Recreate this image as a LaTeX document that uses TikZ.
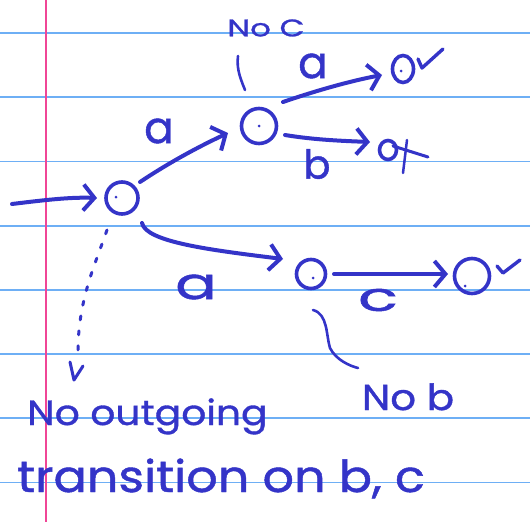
\documentclass[tikz,border=0pt]{standalone}
\usepackage{fontspec}
\setmainfont{Poppins}
\newfontfamily\hand{Poppins}[FakeBold=1]
\usetikzlibrary{arrows.meta,shapes.geometric}
\definecolor{inkc}{RGB}{52,52,200}
\definecolor{rulec}{RGB}{110,175,245}
\definecolor{marginc}{RGB}{240,70,150}
\begin{document}
\begin{tikzpicture}[x=1pt,y=-1pt,
  pen/.style={draw=inkc, line width=4pt, line cap=round, line join=round},
  thinpen/.style={draw=inkc, line width=2.6pt, line cap=round, line join=round},
  state/.style={circle, draw=inkc, line width=3.6pt, inner sep=0pt},
  barb/.style={-{Straight Barb[length=11pt,width=26pt,line width=4pt]}},
  lbl/.style={text=inkc, inner sep=0pt, font=\hand\fontsize{#1}{#1}\selectfont},
  dotc/.style={fill=inkc, circle, inner sep=0pt, minimum size=3pt}]
\fill[white] (0,0) rectangle (530,522);
\useasboundingbox (0,0) rectangle (530,522);
% ruled paper
\foreach \k in {0,...,7}
  \draw[rulec, line width=1.8pt] (0,{33+64.2*\k}) -- (530,{33+64.2*\k});
\draw[marginc, line width=1.8pt] (46,0) -- (46,522);

% states
\node[state, minimum size=32pt] (s0) at (122,198) {};
\node[state, minimum size=35pt] (s1) at (259,126) {};
\node[state, ellipse, minimum width=21pt, minimum height=27pt] (s2) at (403,69) {};
\node[state, ellipse, minimum width=17pt, minimum height=19pt] (s3) at (388,150) {};
\node[state, minimum size=29pt] (s4) at (311,274) {};
\node[state, minimum size=35pt] (s5) at (472,276) {};
\node[dotc] (d1) at (s1.center) {};
\node[dotc] (d2) at (401,71) {};
\node[dotc] (d4) at (313,278) {};
\node[dotc] (d5) at (465,286) {};
\node[dotc] (d0) at (116,197) {};

% coordinates
\coordinate (start) at (12,204);
\coordinate (dend) at (75,378);

% transitions
\draw[pen, barb] (start) .. controls (45,200) and (70,197) .. (97,198);
\draw[pen, barb] (140,182) .. controls (170,162) and (200,146) .. (228,133);
\draw[pen, barb] (283,102) .. controls (315,91) and (350,81) .. (382,75);
\draw[pen, barb] (285,135) .. controls (315,140) and (345,141) .. (370,142);
\draw[pen, barb] (142,223) .. controls (146,242) and (210,250) .. (283,259);
\draw[pen, barb] (334,274) -- (448,274);

% dotted "no outgoing" pointer
\draw[thinpen, line width=3pt, dash pattern=on 4pt off 11pt] (107,230) .. controls (95,265) and (78,300) .. (78,352);
\draw[thinpen, line width=3pt] (70,362) -- (74,380) -- (83,366);

% "No C" pointer
\draw[thinpen] (238,56) .. controls (236,70) and (242,82) .. (245,90);
% "No b" pointer
\draw[thinpen] (313,310) .. controls (328,314) and (326,335) .. (330,348) .. controls (336,360) and (350,366) .. (358,368);

% check marks and cross
\draw[pen, line width=3.4pt] (418,59) -- (422,68) -- (443,49);
\draw[pen, line width=3pt] (393,146) -- (428,157);
\draw[pen, line width=2.5pt] (407,140) -- (403,173);
\draw[pen, line width=3.4pt] (497,266) -- (503,273) -- (520,260);

% labels
\node[lbl=44] (la1) at (159,131) {a};
\node[lbl=44] (la2) at (313,66) {a};
\node[lbl=40] (lb1) at (317,164) {b};
\node[lbl=44] (la3) at (196,287) {\scalebox{1.4}[1]{a}};
\node[lbl=44] (lc) at (378,300) {\scalebox{1.5}[0.9]{c}};
\node[lbl=24] (noc) at (266,28) {\scalebox{1.35}[1]{No C}};
\node[lbl=36, anchor=base] (nob) at (408,410) {\scalebox{1.12}[1]{No b}};
\node[lbl=35, anchor=base west] (t1) at (27,425) {\scalebox{1.12}[1]{No outgoing}};
\node[lbl=44, anchor=base west] (t2) at (17,492) {\scalebox{1.12}[1]{transition on b, c}};
\end{tikzpicture}
\end{document}
